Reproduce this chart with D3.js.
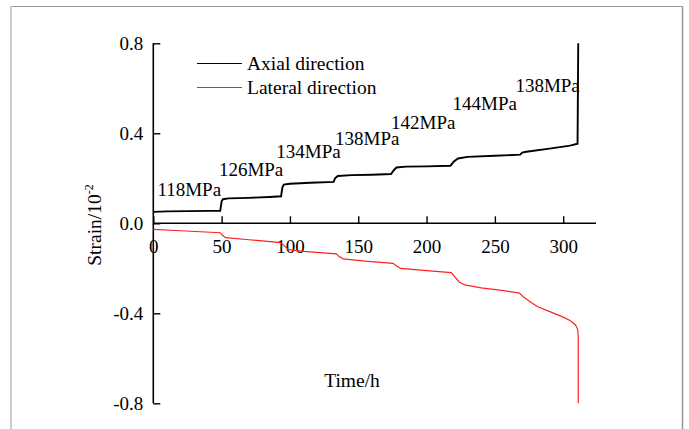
<!DOCTYPE html>
<html><head><meta charset="utf-8">
<script src="https://cdn.jsdelivr.net/npm/d3@7"></script>
<style>body{margin:0;background:#fff}svg{display:block}text{font-family:"Liberation Serif","Times New Roman",serif;fill:#000}</style>
</head><body>
<script>
const axialT = [0,10,25,40,49,50,51,55,70,85,93.5,94.5,95.5,100,115,132,133,135,145,160,174,176,178,185,200,217.5,220,223,230,250,268.5,270,273,290,305,310.5,311];
const axialV = [0.051,0.053,0.054,0.055,0.056,0.098,0.107,0.111,0.113,0.117,0.12,0.16,0.172,0.176,0.18,0.184,0.2,0.21,0.214,0.216,0.219,0.236,0.248,0.252,0.253,0.256,0.275,0.288,0.295,0.3,0.305,0.314,0.318,0.332,0.345,0.354,0.8];
const lateralT = [0,20,49,50,53,70,93,95,99,110,134,136,139,155,175.5,178,181,200,218,221,224,228,240,255,268,271,275,281,292,300,305,309,310.5,311,311];
const lateralV = [-0.027,-0.033,-0.042,-0.05,-0.064,-0.073,-0.086,-0.095,-0.117,-0.125,-0.136,-0.148,-0.158,-0.168,-0.178,-0.19,-0.2,-0.21,-0.219,-0.24,-0.262,-0.274,-0.287,-0.298,-0.31,-0.328,-0.345,-0.37,-0.397,-0.417,-0.432,-0.452,-0.47,-0.5,-0.8];
const xTicks = [0,50,100,150,200,250,300];
const yTicks = [0.8,0.4,0.0,-0.4,-0.8];
const stressLabels = ["118MPa","126MPa","134MPa","138MPa","142MPa","144MPa","138MPa"];
const stressLabelT = [3,48,90,133,174,219,265];
const stressLabelV = [0.12,0.21,0.29,0.35,0.42,0.505,0.585];
const seriesNames = ["Axial direction","Lateral direction"];
const seriesColors = ["#000","#ff2020"];

const W=689,H=429;
const svg=d3.select("body").append("svg").attr("width",W).attr("height",H);
// frame
svg.append("line").attr("x1",10).attr("x2",683).attr("y1",6.5).attr("y2",6.5).attr("stroke","#999").attr("stroke-width",1);
svg.append("line").attr("x1",11).attr("x2",11).attr("y1",6).attr("y2",429).attr("stroke","#ccc").attr("stroke-width",2);
svg.append("line").attr("x1",682.5).attr("x2",682.5).attr("y1",6).attr("y2",429).attr("stroke","#999").attr("stroke-width",1.5);

const x=d3.scaleLinear().domain([0,324]).range([153.3,596]);
const y=d3.scaleLinear().domain([-0.8,0.8]).range([403.3,43.3]);

// axes
const xAxis=svg.append("g").attr("transform",`translate(0,${y(0)})`)
  .call(d3.axisBottom(x).tickValues(xTicks).tickSize(-7).tickPadding(16).tickFormat(d3.format("d")));
const yAxis=svg.append("g").attr("transform",`translate(${x(0)},0)`)
  .call(d3.axisLeft(y).tickValues(yTicks).tickSize(-7).tickPadding(10).tickFormat(d=>d3.format(".1f")(d).replace("\u2212","-")));
[xAxis,yAxis].forEach(g=>{
  g.select(".domain").attr("stroke","#000").attr("stroke-width",1.6);
  g.selectAll(".tick line").attr("stroke","#000").attr("stroke-width",1.4);
  g.selectAll("text").style("font-size","19px").attr("fill","#000");
});
yAxis.select(".domain").attr("d",`M0,${y(0.8)}V${y(-0.8)}`);
xAxis.select(".domain").attr("d",`M${x(0)},0H${x(324)}`);

const line=d3.line().x(d=>x(d[0])).y(d=>y(d[1]));
const axial=axialT.map((t,i)=>[t,axialV[i]]);
const lateral=lateralT.map((t,i)=>[t,lateralV[i]]);
svg.append("path").datum(lateral).attr("d",line).attr("fill","none").attr("stroke",seriesColors[1]).attr("stroke-width",1.2);
svg.append("path").datum(axial).attr("d",line).attr("fill","none").attr("stroke",seriesColors[0]).attr("stroke-width",1.9);

// stress labels
stressLabels.forEach((s,i)=>{
  svg.append("text").attr("x",x(stressLabelT[i])).attr("y",y(stressLabelV[i])).style("font-size","19px").text(s);
});

// legend
seriesNames.forEach((n,i)=>{
  const ly=63.5+i*24;
  svg.append("line").attr("x1",197).attr("x2",242).attr("y1",ly).attr("y2",ly).attr("stroke",seriesColors[i]).attr("stroke-width",1.2);
  svg.append("text").attr("x",247).attr("y",ly+6.5).style("font-size","19.5px").text(n);
});

// axis titles
svg.append("text").attr("x",352).attr("y",387).attr("text-anchor","middle").style("font-size","19.5px").text("Time/h");
const yt=svg.append("text").attr("transform","translate(101,225) rotate(-90)").attr("text-anchor","middle").style("font-size","19.5px");
yt.append("tspan").text("Strain/10");
yt.append("tspan").attr("dy",-8).style("font-size","12px").text("-2");
</script>
</body></html>
